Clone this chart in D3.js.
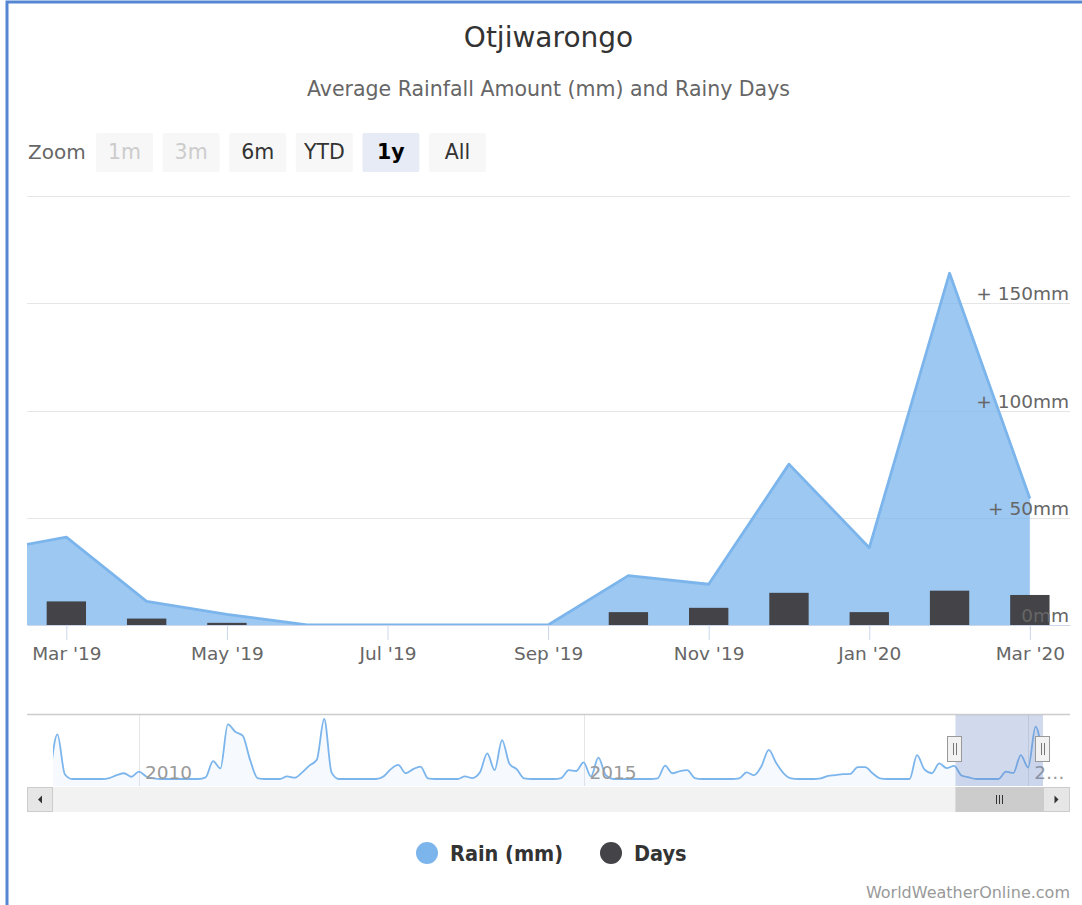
<!DOCTYPE html>
<html>
<head>
<meta charset="utf-8">
<script src="https://cdn.jsdelivr.net/npm/d3@7"></script>
<style>
body { margin: 0; background: #fff; }
svg { display: block; font-family: "DejaVu Sans", Verdana, sans-serif; }
</style>
</head>
<body>
<svg width="1082" height="905"></svg>
<script>
// main chart, one point per month (ordinal axis)
var months = ["Feb '19", "Mar '19", "Apr '19", "May '19", "Jun '19", "Jul '19", "Aug '19",
              "Sep '19", "Oct '19", "Nov '19", "Dec '19", "Jan '20", "Feb '20", "Mar '20"];
var rain = [34, 41, 11, 5, 0, 0, 0, 0, 23, 19, 75, 36, 164, 59];
var days = [9, 11, 3, 1, 0, 0, 0, 0, 6, 8, 15, 6, 16, 14];
var monthTicks = [1, 3, 5, 7, 9, 11, 13];
var rainTicks = [0, 50, 100, 150, 200];
var rainLabels = ["0mm", "+ 50mm", "+ 100mm", "+ 150mm", ""];

// navigator: monthly rain Jan 2009 .. Mar 2020
var rainHistory = [
    8, 140, 15, 0, 0, 0, 0, 0, 3, 12, 18, 7,       // 2009
    23, 8, 2, 0, 0, 0, 0, 0, 0, 5, 56, 33,         // 2010
    171, 148, 136, 60, 3, 0, 0, 0, 8, 4, 20, 42,   // 2011
    60, 188, 20, 0, 0, 0, 0, 0, 0, 8, 31, 44,      // 2012
    18, 31, 39, 2, 0, 0, 0, 0, 8, 3, 20, 80,       // 2013
    28, 122, 48, 30, 2, 0, 0, 0, 0, 3, 28, 25,     // 2014
    52, 8, 67, 12, 0, 0, 0, 0, 0, 0, 2, 42,        // 2015
    18, 25, 28, 3, 0, 0, 0, 0, 0, 2, 21, 12,       // 2016
    40, 91, 50, 18, 2, 0, 0, 0, 2, 10, 12, 15,     // 2017
    16, 37, 37, 18, 2, 0, 0, 0, 0, 75, 30, 18,     // 2018
    49, 34, 41, 11, 5, 0, 0, 0, 0, 23, 19, 75,     // 2019
    36, 164, 59                                    // 2020
];
var navYears = [2010, 2015, 2020];
var firstYear = 2009;
var mainStart = 121; // Feb 2019 in rainHistory
var zoomButtons = ["1m", "3m", "6m", "YTD", "1y", "All"];
var selectedButton = "1y";
var disabledButtons = ["1m", "3m"];

var svg = d3.select("svg"),
    width = +svg.attr("width"),
    height = +svg.attr("height");

var plotLeft = 27, plotRight = 1070, plotTop = 196, plotBottom = 625;

// page border
svg.append("path")
    .attr("d", "M7," + height + "V2H" + width)
    .attr("fill", "none")
    .attr("stroke", "#5586d2")
    .attr("stroke-width", 3);

// titles
svg.append("text")
    .attr("x", (plotLeft + plotRight) / 2)
    .attr("y", 47)
    .attr("text-anchor", "middle")
    .attr("font-size", 28)
    .attr("fill", "#333")
    .text("Otjiwarongo");

svg.append("text")
    .attr("x", (plotLeft + plotRight) / 2)
    .attr("y", 96)
    .attr("text-anchor", "middle")
    .attr("font-size", 20.5)
    .attr("fill", "#666")
    .text("Average Rainfall Amount (mm) and Rainy Days");

// range selector
svg.append("text")
    .attr("x", 28)
    .attr("y", 159)
    .attr("font-size", 20)
    .attr("fill", "#666")
    .text("Zoom");

var btn = svg.append("g").selectAll("g")
    .data(zoomButtons)
    .enter().append("g")
    .attr("transform", function(d, i) { return "translate(" + (96 + i * 66.6) + ",133)"; });

btn.append("rect")
    .attr("width", 57)
    .attr("height", 39)
    .attr("rx", 2)
    .attr("fill", function(d) { return d === selectedButton ? "#e6ebf5" : "#f7f7f7"; });

btn.append("text")
    .attr("x", 28.5)
    .attr("y", 26)
    .attr("text-anchor", "middle")
    .attr("font-size", 20.5)
    .attr("font-weight", function(d) { return d === selectedButton ? "bold" : "normal"; })
    .attr("fill", function(d) {
        if (disabledButtons.indexOf(d) >= 0) return "#cccccc";
        return d === selectedButton ? "#000" : "#333";
    })
    .text(function(d) { return d; });

// scales
var x = d3.scaleLinear()
    .domain([0.51, 13.5])
    .range([plotLeft, plotRight]);

var y = d3.scaleLinear()
    .domain([0, 200])
    .range([plotBottom, plotTop]);

var barW = (x(1) - x(0)) * 0.49;

var defs = svg.append("defs");

defs.append("clipPath")
    .attr("id", "plot-clip")
  .append("rect")
    .attr("x", plotLeft)
    .attr("y", plotTop - 5)
    .attr("width", plotRight - plotLeft)
    .attr("height", plotBottom - plotTop + 5);

// grid
svg.append("g")
    .selectAll("line")
    .data(rainTicks.slice(1))
    .enter().append("line")
    .attr("x1", plotLeft)
    .attr("x2", plotRight)
    .attr("y1", function(d) { return Math.round(y(d)) + 0.5; })
    .attr("y2", function(d) { return Math.round(y(d)) + 0.5; })
    .attr("stroke", "#e6e6e6");

var plot = svg.append("g").attr("clip-path", "url(#plot-clip)");

var area = d3.area()
    .x(function(d, i) { return x(i); })
    .y0(y(0))
    .y1(function(d) { return y(d); });

var line = d3.line()
    .x(function(d, i) { return x(i); })
    .y(function(d) { return y(d); });

plot.append("path")
    .datum(rain)
    .attr("d", area)
    .attr("fill", "#7cb5ec")
    .attr("fill-opacity", 0.75);

plot.append("path")
    .datum(rain)
    .attr("d", line)
    .attr("fill", "none")
    .attr("stroke", "#7cb5ec")
    .attr("stroke-width", 2.8)
    .attr("stroke-linejoin", "round");

plot.selectAll(".bar")
    .data(days)
    .enter().append("rect")
    .attr("class", "bar")
    .attr("x", function(d, i) { return x(i) - barW / 2; })
    .attr("y", function(d) { return y(d); })
    .attr("width", barW)
    .attr("height", function(d) { return y(0) - y(d); })
    .attr("fill", "#434348");

// x axis
var xAxis = svg.append("g")
    .attr("transform", "translate(0," + plotBottom + ")")
    .call(d3.axisBottom(x)
        .tickValues(monthTicks)
        .tickFormat(function(i) { return months[i]; })
        .tickSize(15)
        .tickSizeOuter(0)
        .tickPadding(7));

xAxis.select(".domain").attr("stroke", "#ccd6eb");
xAxis.selectAll(".tick line").attr("stroke", "#ccd6eb");
xAxis.selectAll("text")
    .attr("font-family", "DejaVu Sans, sans-serif")
    .attr("font-size", 18.5)
    .attr("fill", "#666");

// y labels on the right, drawn over the series
svg.append("g")
    .selectAll("text")
    .data(rainTicks)
    .enter().append("text")
    .attr("x", plotRight - 1)
    .attr("y", function(d) { return y(d) - 3; })
    .attr("text-anchor", "end")
    .attr("font-size", 18.5)
    .attr("fill", "#666")
    .text(function(d, i) { return rainLabels[i]; });

// navigator
var navTop = 715, navBottom = 786, navLeft = 53, navRight = 1043;

var xNav = d3.scaleLinear()
    .domain([0, rainHistory.length - 1])
    .range([50, navRight]);

var yNav = d3.scaleLinear()
    .domain([0, d3.max(rainHistory)])
    .range([779, 719]);

defs.append("clipPath")
    .attr("id", "nav-clip")
  .append("rect")
    .attr("x", navLeft)
    .attr("y", navTop)
    .attr("width", navRight - navLeft)
    .attr("height", navBottom - navTop);

var nav = svg.append("g");

nav.selectAll(".yr")
    .data(navYears)
    .enter().append("line")
    .attr("class", "yr")
    .attr("x1", function(d) { return Math.round(xNav((d - firstYear) * 12)) + 0.5; })
    .attr("x2", function(d) { return Math.round(xNav((d - firstYear) * 12)) + 0.5; })
    .attr("y1", navTop)
    .attr("y2", navBottom)
    .attr("stroke", "#e6e6e6");

var navSeries = nav.append("g").attr("clip-path", "url(#nav-clip)");

navSeries.append("path")
    .datum(rainHistory)
    .attr("d", d3.area()
        .curve(d3.curveMonotoneX)
        .x(function(d, i) { return xNav(i); })
        .y0(navBottom)
        .y1(function(d) { return yNav(d); }))
    .attr("fill", "#7cb5ec")
    .attr("fill-opacity", 0.07);

navSeries.append("path")
    .datum(rainHistory)
    .attr("d", d3.line()
        .curve(d3.curveMonotoneX)
        .x(function(d, i) { return xNav(i); })
        .y(function(d) { return yNav(d); }))
    .attr("fill", "none")
    .attr("stroke", "#7cb5ec")
    .attr("stroke-width", 1.8);

var yearLabels = nav.selectAll(".yl")
    .data(navYears)
    .enter().append("text")
    .attr("class", "yl")
    .attr("x", function(d) { return xNav((d - firstYear) * 12) + 6; })
    .attr("y", 779)
    .attr("font-size", 18.5)
    .attr("fill", "#999")
    .text(function(d) { return d; });

// shorten the last year label when it runs past the chart
yearLabels.each(function() {
    var t = d3.select(this),
        room = plotRight - (+t.attr("x"));
    if (this.getComputedTextLength() > room) {
        var s = t.text();
        t.text(s + "\u2026");
        while (s.length > 1 && this.getComputedTextLength() > room) {
            s = s.slice(0, -1);
            t.text(s + "\u2026");
        }
    }
});

nav.append("line")
    .attr("x1", plotLeft)
    .attr("x2", plotRight)
    .attr("y1", navTop - 0.5)
    .attr("y2", navTop - 0.5)
    .attr("stroke", "#cccccc")
    .attr("stroke-width", 1.5);

var selFrom = xNav(mainStart + x.domain()[0]) + 5,
    selTo = xNav(Math.min(rainHistory.length - 1, mainStart + x.domain()[1]));

nav.append("rect")
    .attr("x", selFrom)
    .attr("y", navTop)
    .attr("width", selTo - selFrom)
    .attr("height", navBottom - navTop)
    .attr("fill", "rgba(102,133,194,0.3)");

// scrollbar
var sbTop = 787, sbH = 25;

nav.append("rect")
    .attr("x", navLeft)
    .attr("y", sbTop)
    .attr("width", navRight - navLeft)
    .attr("height", sbH)
    .attr("fill", "#f2f2f2");

nav.append("rect")
    .attr("x", selFrom)
    .attr("y", sbTop)
    .attr("width", selTo - selFrom)
    .attr("height", sbH)
    .attr("fill", "#cccccc");

[-3, 0, 3].forEach(function(dx) {
    nav.append("line")
        .attr("x1", Math.round((selFrom + selTo) / 2) + dx + 0.5)
        .attr("x2", Math.round((selFrom + selTo) / 2) + dx + 0.5)
        .attr("y1", sbTop + 8)
        .attr("y2", sbTop + 17)
        .attr("stroke", "#333");
});

[[plotLeft, navLeft, -1], [navRight, plotRight, 1]].forEach(function(b) {
    var cx = (b[0] + b[1]) / 2, cy = sbTop + sbH / 2;
    nav.append("rect")
        .attr("x", b[0] + 0.5)
        .attr("y", sbTop + 0.5)
        .attr("width", b[1] - b[0] - 1)
        .attr("height", sbH - 1)
        .attr("fill", "#e6e6e6")
        .attr("stroke", "#cccccc");
    nav.append("path")
        .attr("d", "M" + (cx - 2 * b[2]) + "," + (cy - 4) + "L" + (cx + 2 * b[2]) + "," + cy + "L" + (cx - 2 * b[2]) + "," + (cy + 4) + "Z")
        .attr("fill", "#333");
});

// handles
[selFrom, selTo].forEach(function(hx) {
    var h = nav.append("g").attr("transform", "translate(" + Math.round(hx) + ",736)");
    h.append("rect")
        .attr("x", -7.5)
        .attr("y", 0.5)
        .attr("width", 14)
        .attr("height", 25)
        .attr("fill", "#f2f2f2")
        .attr("stroke", "#999");
    [-1.5, 1.5].forEach(function(dx) {
        h.append("line")
            .attr("x1", dx)
            .attr("x2", dx)
            .attr("y1", 7)
            .attr("y2", 19)
            .attr("stroke", "#777");
    });
});

// legend
var legend = svg.append("g").selectAll("g")
    .data([["Rain (mm)", "#7cb5ec", 427], ["Days", "#434348", 611]])
    .enter().append("g")
    .attr("transform", function(d) { return "translate(" + d[2] + ",853)"; });

legend.append("circle")
    .attr("r", 11)
    .attr("fill", function(d) { return d[1]; });

legend.append("text")
    .attr("x", 23)
    .attr("y", 8)
    .attr("font-family", "DejaVu Sans Condensed, DejaVu Sans, sans-serif")
    .attr("font-weight", "bold")
    .attr("font-size", 21.5)
    .attr("fill", "#333")
    .text(function(d) { return d[0]; });

// credits
svg.append("text")
    .attr("x", plotRight)
    .attr("y", 898)
    .attr("text-anchor", "end")
    .attr("font-size", 16)
    .attr("fill", "#999")
    .text("WorldWeatherOnline.com");
</script>
</body>
</html>
